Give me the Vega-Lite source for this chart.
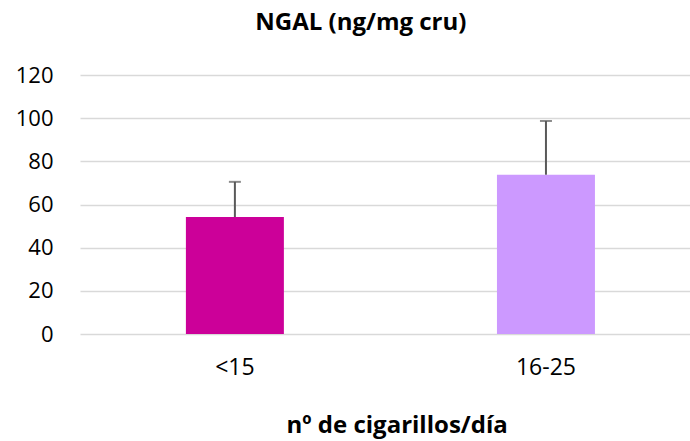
{
  "$schema": "https://vega.github.io/schema/vega-lite/v6.json",
  "autosize": "none",
  "padding": {"left": 80, "top": 75, "right": 0, "bottom": 107},
  "width": 610,
  "height": 259,
  "background": "white",
  "config": {"view": {"stroke": null}, "font": "Open Sans"},
  "title": {"text": "NGAL (ng/mg cru)", "fontSize": 24, "fontWeight": "bold", "font": "Open Sans", "color": "#000000", "anchor": "start", "dx": 240, "offset": 29},
  "data": {"values": [
    {"grupo": "<15", "valor": 54.2, "sup": 70.5},
    {"grupo": "16-25", "valor": 73.8, "sup": 98.7}
  ]},
  "encoding": {
    "x": {"field": "grupo", "type": "nominal", "sort": null,
      "scale": {"paddingInner": 0.685, "paddingOuter": 0.323, "align": 0.527},
      "axis": {"title": "nº de cigarillos/día", "titleFontSize": 24, "titleFontWeight": "bold", "titleColor": "#000000", "titlePadding": 34, "titleAnchor": "start", "titleX": 206, "labelFontSize": 23, "labelColor": "#000000", "labelAngle": 0, "labelPadding": 22, "domain": false, "ticks": false}}
  },
  "layer": [
    {
      "mark": {"type": "bar"},
      "encoding": {
        "y": {"field": "valor", "type": "quantitative", "scale": {"domain": [0, 120]},
          "axis": {"title": null, "values": [0, 20, 40, 60, 80, 100, 120], "labelFontSize": 22, "labelColor": "#000000", "labelPadding": 27, "ticks": false, "domain": false, "gridColor": "#D9D9D9", "gridWidth": 1.5}},
        "color": {"field": "grupo", "type": "nominal", "scale": {"domain": ["<15", "16-25"], "range": ["#CC0099", "#CC99FF"]}, "legend": null}
      }
    },
    {
      "mark": {"type": "rule", "color": "#595959", "strokeWidth": 2},
      "encoding": {"y": {"field": "valor", "type": "quantitative"}, "y2": {"field": "sup"}}
    },
    {
      "mark": {"type": "tick", "color": "#595959", "thickness": 2, "size": 12, "orient": "horizontal"},
      "encoding": {"y": {"field": "sup", "type": "quantitative"}}
    }
  ]
}
